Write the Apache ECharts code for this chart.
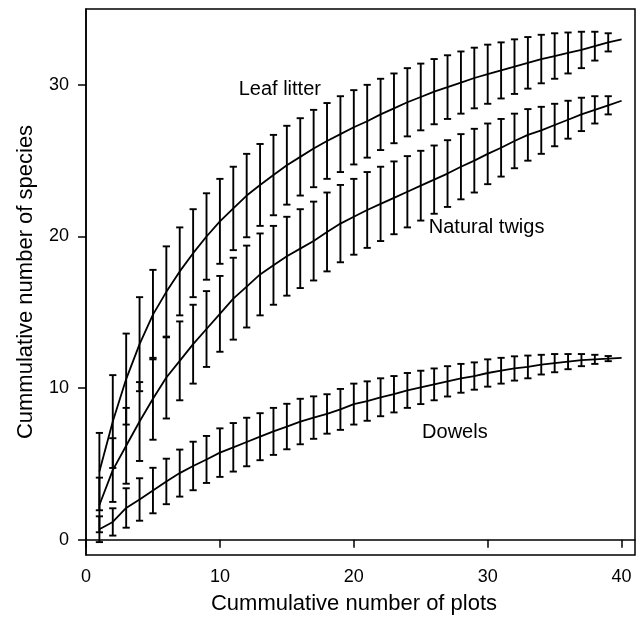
<!DOCTYPE html>
<html>
<head>
<meta charset="utf-8">
<script src="https://cdn.jsdelivr.net/npm/echarts@6/dist/echarts.min.js"></script>
<style>html,body{margin:0;padding:0;background:#fff}#c{width:642px;height:620px}</style>
</head>
<body>
<div id="c"></div>
<script>
const plots = [1,2,3,4,5,6,7,8,9,10,11,12,13,14,15,16,17,18,19,20,21,22,23,24,25,26,27,28,29,30,31,32,33,34,35,36,37,38,39,40];
const leafMean = [4.5,7.8,10.6,12.9,14.85,16.35,17.7,18.9,20.0,21.0,21.85,22.7,23.4,24.05,24.7,25.25,25.8,26.3,26.75,27.2,27.6,28.05,28.45,28.85,29.2,29.55,29.85,30.15,30.45,30.7,30.95,31.2,31.45,31.7,31.9,32.1,32.3,32.55,32.8,33.0];
const leafSD = [2.55,3.06,3.0,3.1,2.95,3.0,2.9,2.9,2.85,2.8,2.75,2.75,2.7,2.65,2.6,2.55,2.55,2.5,2.5,2.45,2.4,2.35,2.3,2.25,2.2,2.15,2.1,2.05,2.0,1.95,1.85,1.8,1.7,1.6,1.5,1.35,1.2,0.95,0.6];
const twigMean = [2.3,4.6,6.2,7.8,9.3,10.7,11.8,12.9,13.9,14.9,15.9,16.7,17.5,18.1,18.7,19.2,19.7,20.3,20.85,21.3,21.75,22.15,22.55,22.95,23.35,23.75,24.15,24.6,25.0,25.45,25.85,26.3,26.7,27.0,27.35,27.7,28.05,28.35,28.65,28.95];
const twigSD = [1.8,2.1,2.5,2.6,2.7,2.7,2.6,2.6,2.5,2.5,2.7,2.7,2.7,2.6,2.6,2.6,2.6,2.6,2.55,2.5,2.5,2.45,2.4,2.35,2.3,2.25,2.2,2.15,2.1,2.0,1.9,1.8,1.7,1.55,1.4,1.25,1.1,0.9,0.6];
const dowelMean = [0.7,1.18,2.1,2.66,3.25,3.85,4.4,4.87,5.3,5.75,6.1,6.45,6.8,7.15,7.47,7.8,8.06,8.3,8.6,8.95,9.15,9.4,9.6,9.85,10.05,10.25,10.45,10.65,10.8,11.0,11.15,11.3,11.4,11.55,11.65,11.75,11.85,11.9,11.95,12.0];
const dowelSD = [0.85,0.9,1.3,1.4,1.5,1.5,1.55,1.6,1.55,1.6,1.6,1.6,1.55,1.55,1.5,1.5,1.4,1.3,1.35,1.35,1.3,1.25,1.2,1.15,1.1,1.05,1.0,0.95,0.9,0.9,0.85,0.8,0.75,0.65,0.6,0.5,0.4,0.3,0.17];
const xTicks = [0,10,20,30,40];
const yTicks = [0,10,20,30];
const curveLabels = [
  {text:'Leaf litter', x:11.4, y:29.7},
  {text:'Natural twigs', x:25.6, y:20.6},
  {text:'Dowels', x:25.1, y:7.1}
];

const FONT = 'Liberation Sans, Arial, Helvetica, sans-serif';

function lineSeries(mean){
  return {type:'line', data: plots.map((x,i)=>[x, mean[i]]), showSymbol:false, symbol:'none',
    lineStyle:{color:'#000', width:1.8}, z:3, silent:true};
}
function errSeries(mean, sd){
  return {type:'custom', z:2, silent:true,
    data: sd.map((s,i)=>[plots[i], mean[i]-s, mean[i]+s]),
    renderItem(params, api){
      const x = api.value(0);
      const lo = api.coord([x, api.value(1)]);
      const hi = api.coord([x, api.value(2)]);
      const w = 3.6;
      const st = {stroke:'#000', lineWidth:1.9};
      return {type:'group', children:[
        {type:'line', shape:{x1:lo[0],y1:lo[1],x2:hi[0],y2:hi[1]}, style:st},
        {type:'line', shape:{x1:lo[0]-w,y1:lo[1],x2:lo[0]+w,y2:lo[1]}, style:st},
        {type:'line', shape:{x1:hi[0]-w,y1:hi[1],x2:hi[0]+w,y2:hi[1]}, style:st}
      ]};
    }
  };
}

const chart = echarts.init(document.getElementById('c'), null, {renderer:'canvas'});
chart.setOption({
  animation:false,
  backgroundColor:'#fff',
  grid:{left:86, right:7, top:9, bottom:60, show:true, borderColor:'#000', borderWidth:1.5, backgroundColor:'transparent'},
  xAxis:{type:'value', min:0, max:41, interval:10,
    name:'Cummulative number of plots', nameLocation:'middle', nameGap:38,
    nameTextStyle:{fontFamily:FONT, fontSize:22, color:'#000', padding:[0,13,0,0]},
    axisLine:{show:true, lineStyle:{color:'#000', width:1.5}},
    axisTick:{show:true, length:8, inside:false, customValues:xTicks, lineStyle:{color:'#000', width:1.5}},
    axisLabel:{customValues:xTicks, fontFamily:FONT, fontSize:18, color:'#000', margin:13},
    splitLine:{show:false}},
  yAxis:{type:'value', min:-1, max:35, interval:1,
    name:'Cummulative number of species', nameLocation:'middle', nameGap:49, nameRotate:90,
    nameTextStyle:{fontFamily:FONT, fontSize:22, color:'#000'},
    axisLine:{show:true, lineStyle:{color:'#000', width:1.5}},
    axisTick:{show:true, length:8, inside:false, customValues:yTicks, lineStyle:{color:'#000', width:1.5}},
    axisLabel:{customValues:yTicks, fontFamily:FONT, fontSize:18, color:'#000', margin:17},
    splitLine:{show:false}},
  series:[
    errSeries(leafMean, leafSD), lineSeries(leafMean),
    errSeries(twigMean, twigSD), lineSeries(twigMean),
    errSeries(dowelMean, dowelSD), lineSeries(dowelMean),
    {type:'custom', z:5, silent:true,
      data: curveLabels.map(l=>[l.x, l.y, l.text]),
      renderItem(params, api){
        const p = api.coord([api.value(0), api.value(1)]);
        return {type:'text', x:p[0], y:p[1], style:{text: curveLabels[params.dataIndex].text, fill:'#000',
          font:'20px ' + FONT, align:'left', verticalAlign:'middle'}};
      }}
  ]
});
</script>
</body>
</html>
